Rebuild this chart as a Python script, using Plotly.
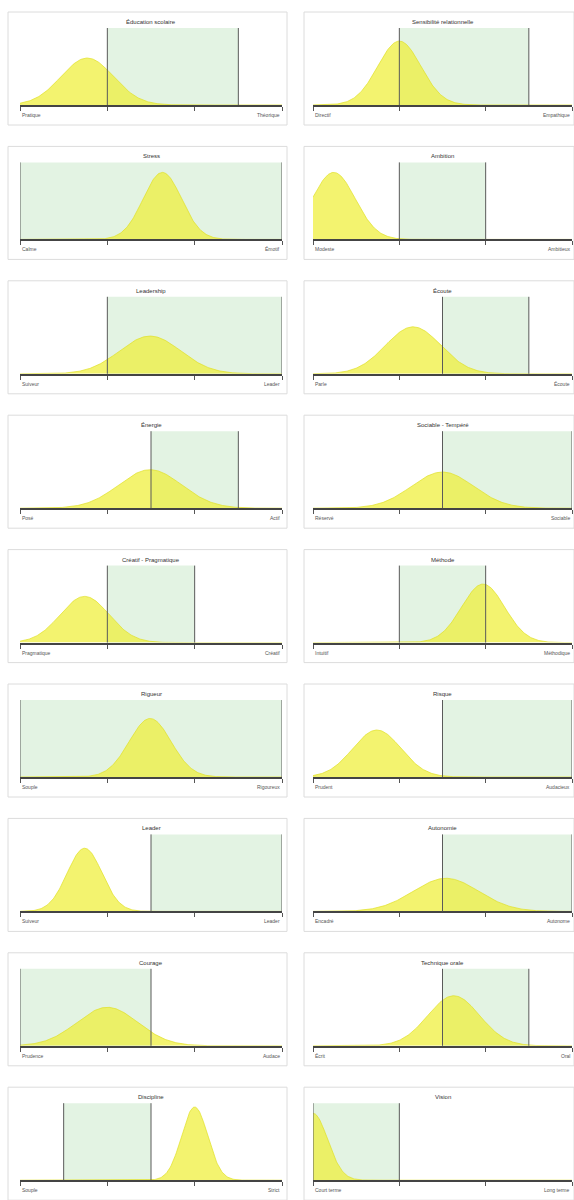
import numpy as np
import plotly.graph_objects as go

titles = ["Éducation scolaire", "Sensibilité relationnelle", "Stress", "Ambition",
          "Leadership", "Écoute", "Énergie", "Sociable - Tempéré",
          "Créatif - Pragmatique", "Méthode", "Rigueur", "Risque",
          "Leader", "Autonomie", "Courage", "Technique orale",
          "Discipline", "Vision"]
left_labels = ["Pratique", "Directif", "Calme", "Modeste", "Suiveur", "Parle",
               "Posé", "Réservé", "Pragmatique", "Intuitif", "Souple", "Prudent",
               "Suiveur", "Encadré", "Prudence", "Écrit", "Souple", "Court terme"]
right_labels = ["Théorique", "Empathique", "Émotif", "Ambitieux", "Leader", "Écoute",
                "Actif", "Sociable", "Créatif", "Méthodique", "Rigoureux", "Audacieux",
                "Leader", "Autonome", "Audace", "Oral", "Strict", "Long terme"]
means = [0.77, 1.0, 1.63, 0.24, 1.49, 1.16, 1.49, 1.5, 0.74, 1.97, 1.49, 0.74,
         0.74, 1.54, 1.0, 1.63, 2.0, 0.0]
sds = [0.3, 0.25, 0.22, 0.25, 0.35, 0.32, 0.36, 0.36, 0.28, 0.25, 0.24, 0.28,
       0.2, 0.38, 0.35, 0.3, 0.15, 0.17]
peaks = [0.61, 0.83, 0.87, 0.87, 0.49, 0.61, 0.5, 0.47, 0.6, 0.76, 0.76, 0.61,
         0.82, 0.43, 0.5, 0.65, 0.95, 0.87]
green_lo = [1, 1, 0, 1, 1, 1.5, 1.5, 1.5, 1, 1, 0, 1.5, 1.5, 1.5, 0, 1.5, 0.5, 0]
green_hi = [2.5, 2.5, 3, 2, 3, 2.5, 2.5, 3, 2, 2, 3, 3, 3, 3, 1.5, 2.5, 1.5, 1]
tick_vals = [0, 1, 2, 3]

W, H = 574, 1200
ROW = 134.4
col_x = [(20, 282), (313, 572)]
box_x = [(8, 287), (304, 574)]

fig = go.Figure()
shapes = []
annotations = []
xs = np.linspace(0, 3, 301)

for i in range(18):
    r, c = divmod(i, 2)
    k = i + 1
    xa = "xaxis" if k == 1 else f"xaxis{k}"
    ya = "yaxis" if k == 1 else f"yaxis{k}"
    xr = "x" if k == 1 else f"x{k}"
    yr = "y" if k == 1 else f"y{k}"
    x0p, x1p = col_x[c]
    top = 28 + ROW * r
    bot = 105 + ROW * r
    shapes.append(dict(type="rect", xref="paper", yref="paper",
                       x0=box_x[c][0] / W, x1=box_x[c][1] / W,
                       y0=1 - (125 + ROW * r) / H, y1=1 - (12 + ROW * r) / H,
                       line=dict(color="#dcdcdc", width=1), fillcolor="white",
                       layer="below"))
    shapes.append(dict(type="rect", xref=xr, yref=f"{yr} domain",
                       x0=green_lo[i], x1=green_hi[i], y0=0, y1=1,
                       fillcolor="#e3f3e3", line=dict(width=0), layer="below"))
    for gx in (green_lo[i], green_hi[i]):
        shapes.append(dict(type="line", xref=xr, yref=f"{yr} domain",
                           x0=gx, x1=gx, y0=0, y1=1,
                           line=dict(color="#5a5a5a", width=1), layer="above"))
    ys = peaks[i] * np.exp(-0.5 * ((xs - means[i]) / sds[i]) ** 2)
    fig.add_trace(go.Scatter(x=xs, y=ys, xaxis=xr, yaxis=yr, mode="lines",
                             fill="tozeroy", fillcolor="rgba(238,238,50,0.7)",
                             line=dict(width=0.8, color="rgba(225,225,40,0.9)"),
                             hoverinfo="skip", showlegend=False))
    fig.layout[xa] = dict(domain=[x0p / W, x1p / W], range=[0, 3], anchor=yr,
                          showgrid=False, zeroline=False, showline=True,
                          linecolor="#444", linewidth=2, ticks="outside",
                          tickvals=tick_vals, ticklen=4, tickcolor="#555",
                          tickwidth=1, showticklabels=False, fixedrange=True)
    fig.layout[ya] = dict(domain=[1 - bot / H, 1 - top / H], range=[0, 1],
                          anchor=xr, visible=False, fixedrange=True)
    cx = (x0p + x1p) / 2 / W
    annotations.append(dict(text=titles[i], xref="paper", yref="paper",
                            x=cx, y=1 - (22 + ROW * r) / H, showarrow=False,
                            font=dict(size=6, color="#333", family="Arial"),
                            xanchor="center", yanchor="middle"))
    annotations.append(dict(text=left_labels[i], xref="paper", yref="paper",
                            x=x0p / W, y=1 - (115 + ROW * r) / H, showarrow=False,
                            font=dict(size=5, color="#555", family="Arial"),
                            xanchor="left", yanchor="middle"))
    annotations.append(dict(text=right_labels[i], xref="paper", yref="paper",
                            x=x1p / W, y=1 - (115 + ROW * r) / H, showarrow=False,
                            font=dict(size=5, color="#555", family="Arial"),
                            xanchor="right", yanchor="middle"))

fig.update_layout(width=W, height=H, margin=dict(l=0, r=0, t=0, b=0),
                  paper_bgcolor="white", plot_bgcolor="rgba(0,0,0,0)",
                  shapes=shapes, annotations=annotations)
fig.write_html("out.html", config={"displayModeBar": False},
               post_script="document.body.style.margin='0';"
                           "document.body.style.overflow='hidden';"
                           "document.documentElement.style.overflow='hidden';")
